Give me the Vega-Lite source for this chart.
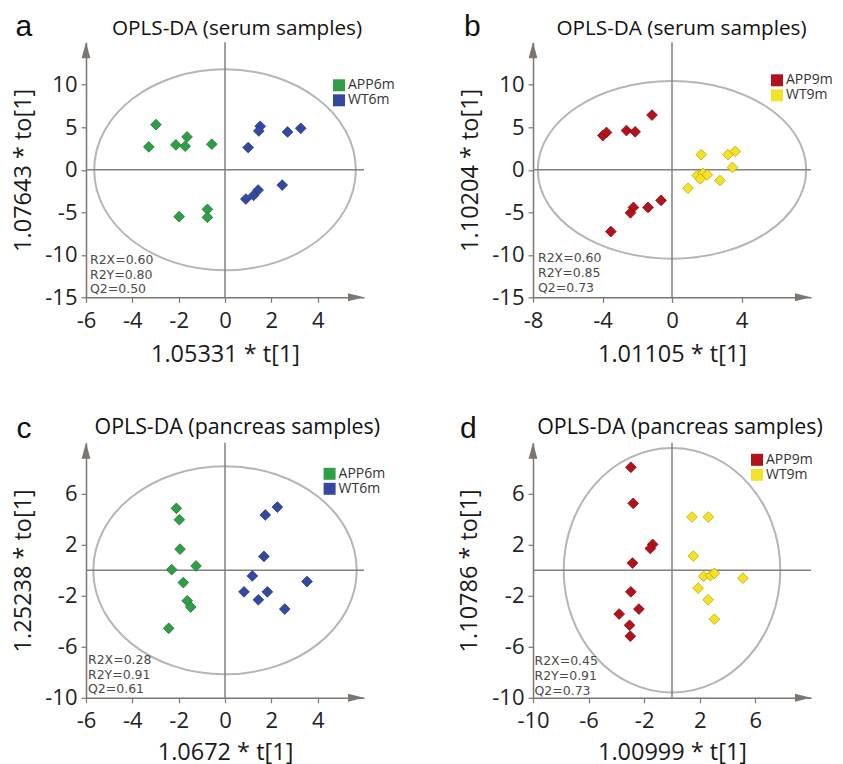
{
  "$schema": "https://vega.github.io/schema/vega-lite/v6.json",
  "padding": {"left": 10, "top": 11.3, "right": 0, "bottom": 0},
  "columns": 2,
  "spacing": {"row": 145.5, "column": 169},
  "bounds": "flush",
  "resolve": {"scale": {"color": "independent", "stroke": "independent", "x": "independent", "y": "independent"}, "legend": {"color": "independent"}, "axis": {"x": "independent", "y": "independent"}},
  "datasets": {
    "info_a": [{"cx": 0, "cy": 0, "letter": "a", "title": "OPLS-DA (serum samples)", "stats": ["R2X=0.60", "R2Y=0.80", "Q2=0.50"]}],
    "info_b": [{"cx": 0, "cy": 0, "letter": "b", "title": "OPLS-DA (serum samples)", "stats": ["R2X=0.60", "R2Y=0.85", "Q2=0.73"]}],
    "info_c": [{"cx": 0, "cy": 0, "letter": "c", "title": "OPLS-DA (pancreas samples)", "stats": ["R2X=0.28", "R2Y=0.91", "Q2=0.61"]}],
    "info_d": [{"cx": 0, "cy": 0, "letter": "d", "title": "OPLS-DA (pancreas samples)", "stats": ["R2X=0.45", "R2Y=0.91", "Q2=0.73"]}],
    "pts_a": [
      {"group": "APP6m", "x": -2.98, "y": 5.31},
      {"group": "APP6m", "x": -3.29, "y": 2.70},
      {"group": "APP6m", "x": -2.12, "y": 2.93},
      {"group": "APP6m", "x": -1.72, "y": 2.77},
      {"group": "APP6m", "x": -1.64, "y": 3.87},
      {"group": "APP6m", "x": -0.57, "y": 3.01},
      {"group": "APP6m", "x": -1.98, "y": -5.51},
      {"group": "APP6m", "x": -0.76, "y": -4.65},
      {"group": "APP6m", "x": -0.76, "y": -5.59},
      {"group": "WT6m", "x": 1.52, "y": 5.12},
      {"group": "WT6m", "x": 1.46, "y": 4.57},
      {"group": "WT6m", "x": 2.70, "y": 4.45},
      {"group": "WT6m", "x": 3.27, "y": 4.88},
      {"group": "WT6m", "x": 1.00, "y": 2.62},
      {"group": "WT6m", "x": 2.47, "y": -1.80},
      {"group": "WT6m", "x": 1.43, "y": -2.38},
      {"group": "WT6m", "x": 1.23, "y": -3.01},
      {"group": "WT6m", "x": 0.90, "y": -3.44}
    ],
    "pts_b": [
      {"group": "APP9m", "x": -3.98, "y": 4.03},
      {"group": "APP9m", "x": -3.77, "y": 4.39},
      {"group": "APP9m", "x": -2.62, "y": 4.62},
      {"group": "APP9m", "x": -2.12, "y": 4.47},
      {"group": "APP9m", "x": -1.15, "y": 6.44},
      {"group": "APP9m", "x": -0.63, "y": -3.60},
      {"group": "APP9m", "x": -1.38, "y": -4.43},
      {"group": "APP9m", "x": -2.22, "y": -4.43},
      {"group": "APP9m", "x": -2.39, "y": -5.06},
      {"group": "APP9m", "x": -3.52, "y": -7.27},
      {"group": "WT9m", "x": 1.68, "y": 1.78},
      {"group": "WT9m", "x": 3.22, "y": 1.78},
      {"group": "WT9m", "x": 3.64, "y": 2.17},
      {"group": "WT9m", "x": 3.48, "y": 0.28},
      {"group": "WT9m", "x": 1.45, "y": -0.67},
      {"group": "WT9m", "x": 1.78, "y": -0.43},
      {"group": "WT9m", "x": 1.63, "y": -1.07},
      {"group": "WT9m", "x": 2.03, "y": -0.59},
      {"group": "WT9m", "x": 2.76, "y": -1.26},
      {"group": "WT9m", "x": 0.92, "y": -2.17}
    ],
    "pts_c": [
      {"group": "APP6m", "x": -2.10, "y": 4.86},
      {"group": "APP6m", "x": -1.97, "y": 3.97},
      {"group": "APP6m", "x": -1.94, "y": 1.66},
      {"group": "APP6m", "x": -1.25, "y": 0.34},
      {"group": "APP6m", "x": -2.30, "y": 0.05},
      {"group": "APP6m", "x": -1.80, "y": -0.96},
      {"group": "APP6m", "x": -1.63, "y": -2.39},
      {"group": "APP6m", "x": -1.48, "y": -2.88},
      {"group": "APP6m", "x": -2.43, "y": -4.55},
      {"group": "WT6m", "x": 2.26, "y": 4.96},
      {"group": "WT6m", "x": 1.74, "y": 4.34},
      {"group": "WT6m", "x": 1.68, "y": 1.09},
      {"group": "WT6m", "x": 1.18, "y": -0.44},
      {"group": "WT6m", "x": 3.54, "y": -0.88},
      {"group": "WT6m", "x": 0.82, "y": -1.69},
      {"group": "WT6m", "x": 1.83, "y": -1.69},
      {"group": "WT6m", "x": 1.44, "y": -2.31},
      {"group": "WT6m", "x": 2.58, "y": -3.04}
    ],
    "pts_d": [
      {"group": "APP9m", "x": -2.96, "y": 8.08},
      {"group": "APP9m", "x": -2.79, "y": 5.25},
      {"group": "APP9m", "x": -1.39, "y": 2.03},
      {"group": "APP9m", "x": -1.56, "y": 1.71},
      {"group": "APP9m", "x": -2.84, "y": 0.57},
      {"group": "APP9m", "x": -2.96, "y": -1.69},
      {"group": "APP9m", "x": -2.38, "y": -3.04},
      {"group": "APP9m", "x": -3.80, "y": -3.43},
      {"group": "APP9m", "x": -3.05, "y": -4.31},
      {"group": "APP9m", "x": -3.00, "y": -5.17},
      {"group": "WT9m", "x": 1.44, "y": 4.18},
      {"group": "WT9m", "x": 2.62, "y": 4.18},
      {"group": "WT9m", "x": 1.54, "y": 1.12},
      {"group": "WT9m", "x": 2.28, "y": -0.47},
      {"group": "WT9m", "x": 2.76, "y": -0.42},
      {"group": "WT9m", "x": 3.05, "y": -0.23},
      {"group": "WT9m", "x": 5.10, "y": -0.62},
      {"group": "WT9m", "x": 1.88, "y": -1.40},
      {"group": "WT9m", "x": 2.60, "y": -2.31},
      {"group": "WT9m", "x": 3.05, "y": -3.84}
    ]
  },
  "concat": [
    {
      "width": 278, "height": 255,
      "layer": [
        {"data": {"name": "info_a"},
         "mark": {"type": "point", "shape": "M1,0C1,0.424 0.5523,0.768 0,0.768C-0.5523,0.768 -1,0.424 -1,0C-1,-0.424 -0.5523,-0.768 0,-0.768C0.5523,-0.768 1,-0.424 1,0Z", "size": 68435, "filled": false, "color": "#b5b5b5", "strokeWidth": 2, "opacity": 1},
         "encoding": {
           "x": {"field": "cx", "type": "quantitative", "scale": {"domain": [-6, 6], "nice": false, "zero": false},
                 "axis": {"title": "1.05331 * t[1]", "values": [-6, -5, -4, -3, -2, -1, 0, 1, 2, 3, 4, 5], "labelExpr": "datum.value % 2 === 0 ? '' + datum.value : ''", "titleY": 64.5}},
           "y": {"field": "cy", "type": "quantitative", "scale": {"domain": [-15, 15], "nice": false, "zero": false},
                 "axis": {"title": "1.07643 * to[1]", "values": [-15, -12.5, -10, -7.5, -5, -2.5, 0, 2.5, 5, 7.5, 10, 12.5], "labelExpr": "datum.value % 5 === 0 ? '' + datum.value : ''", "titleX": -55.5}}
         }},
        {"data": {"name": "info_a"},
         "mark": {"type": "rule", "color": "#808080", "strokeWidth": 1.5},
         "encoding": {"y": {"datum": 0, "type": "quantitative"}}},
        {"data": {"name": "info_a"},
         "mark": {"type": "rule", "color": "#808080", "strokeWidth": 1.5},
         "encoding": {"x": {"datum": 0, "type": "quantitative"}}},
        {"data": {"name": "info_a"},
         "mark": {"type": "point", "shape": "M0,0L-2,-0.5L-2,0.5Z", "size": 256, "filled": true, "color": "#7d7570", "opacity": 1, "strokeWidth": 0},
         "encoding": {"x": {"datum": 6, "type": "quantitative"}, "y": {"datum": -15, "type": "quantitative"}}},
        {"data": {"name": "info_a"},
         "mark": {"type": "point", "shape": "M0,0L0.55,2L-0.55,2Z", "size": 256, "filled": true, "color": "#7d7570", "opacity": 1, "strokeWidth": 0},
         "encoding": {"x": {"datum": -6, "type": "quantitative"}, "y": {"datum": 15, "type": "quantitative"}}},
        {"data": {"name": "pts_a"},
         "mark": {"type": "point", "shape": "diamond", "filled": true, "size": 115, "strokeWidth": 0.8, "opacity": 1},
         "encoding": {
           "x": {"field": "x", "type": "quantitative"},
           "y": {"field": "y", "type": "quantitative"},
           "color": {"field": "group", "type": "nominal", "scale": {"domain": ["APP6m", "WT6m"], "range": ["#2f9e46", "#3448a0"]}, "legend": {"title": null, "legendX": 246, "legendY": 36}},
           "stroke": {"field": "group", "type": "nominal", "scale": {"domain": ["APP6m", "WT6m"], "range": ["#1f7a33", "#26368a"]}, "legend": null}
         }},
        {"data": {"name": "info_a"},
         "mark": {"type": "text", "align": "left", "baseline": "alphabetic", "dx": 4, "dy": -33.4, "font": "DejaVu Sans", "fontSize": 12.5, "lineHeight": 14.8, "color": "#4a4a4a"},
         "encoding": {"x": {"datum": -6, "type": "quantitative"}, "y": {"datum": -15, "type": "quantitative"},
                      "text": {"field": "stats", "type": "nominal"}}},
        {"data": {"name": "info_a"},
         "mark": {"type": "text", "align": "left", "baseline": "alphabetic", "dx": -70.5, "dy": -6, "font": "Liberation Sans", "fontSize": 30, "color": "#111111"},
         "encoding": {"x": {"datum": -6, "type": "quantitative"}, "y": {"datum": 15, "type": "quantitative"},
                      "text": {"field": "letter", "type": "nominal"}}},
        {"data": {"name": "info_a"},
         "mark": {"type": "text", "align": "center", "baseline": "alphabetic", "dx": 12, "dy": -7.4, "font": "Open Sans", "fontSize": 20.7, "color": "#111111"},
         "encoding": {"x": {"datum": 0, "type": "quantitative"}, "y": {"datum": 15, "type": "quantitative"},
                      "text": {"field": "title", "type": "nominal"}}}
      ]
    },
    {
      "width": 278, "height": 255,
      "layer": [
        {"data": {"name": "info_b"},
         "mark": {"type": "point", "shape": "M1,0C1,0.3656 0.5523,0.662 0,0.662C-0.5523,0.662 -1,0.3656 -1,0C-1,-0.3656 -0.5523,-0.662 0,-0.662C0.5523,-0.662 1,-0.3656 1,0Z", "size": 72039, "filled": false, "color": "#b5b5b5", "strokeWidth": 2, "opacity": 1},
         "encoding": {
           "x": {"field": "cx", "type": "quantitative", "scale": {"domain": [-8, 8], "nice": false, "zero": false},
                 "axis": {"title": "1.01105 * t[1]", "values": [-8, -7, -6, -5, -4, -3, -2, -1, 0, 1, 2, 3, 4, 5, 6, 7], "labelExpr": "datum.value % 2 === 0 ? '' + datum.value : ''", "titleY": 64.5}},
           "y": {"field": "cy", "type": "quantitative", "scale": {"domain": [-15, 15], "nice": false, "zero": false},
                 "axis": {"title": "1.10204 * to[1]", "values": [-15, -12.5, -10, -7.5, -5, -2.5, 0, 2.5, 5, 7.5, 10, 12.5], "labelExpr": "datum.value % 5 === 0 ? '' + datum.value : ''", "titleX": -55}}
         }},
        {"data": {"name": "info_b"},
         "mark": {"type": "rule", "color": "#808080", "strokeWidth": 1.5},
         "encoding": {"y": {"datum": 0, "type": "quantitative"}}},
        {"data": {"name": "info_b"},
         "mark": {"type": "rule", "color": "#808080", "strokeWidth": 1.5},
         "encoding": {"x": {"datum": 0, "type": "quantitative"}}},
        {"data": {"name": "info_b"},
         "mark": {"type": "point", "shape": "M0,0L-2,-0.5L-2,0.5Z", "size": 256, "filled": true, "color": "#7d7570", "opacity": 1, "strokeWidth": 0},
         "encoding": {"x": {"datum": 8, "type": "quantitative"}, "y": {"datum": -15, "type": "quantitative"}}},
        {"data": {"name": "info_b"},
         "mark": {"type": "point", "shape": "M0,0L0.55,2L-0.55,2Z", "size": 256, "filled": true, "color": "#7d7570", "opacity": 1, "strokeWidth": 0},
         "encoding": {"x": {"datum": -8, "type": "quantitative"}, "y": {"datum": 15, "type": "quantitative"}}},
        {"data": {"name": "pts_b"},
         "mark": {"type": "point", "shape": "diamond", "filled": true, "size": 115, "strokeWidth": 0.8, "opacity": 1},
         "encoding": {
           "x": {"field": "x", "type": "quantitative"},
           "y": {"field": "y", "type": "quantitative"},
           "color": {"field": "group", "type": "nominal", "scale": {"domain": ["APP9m", "WT9m"], "range": ["#b3121c", "#f2e22a"]}, "legend": {"title": null, "legendX": 237, "legendY": 31}},
           "stroke": {"field": "group", "type": "nominal", "scale": {"domain": ["APP9m", "WT9m"], "range": ["#7d0c12", "#c4a800"]}, "legend": null}
         }},
        {"data": {"name": "info_b"},
         "mark": {"type": "text", "align": "left", "baseline": "alphabetic", "dx": 5, "dy": -35, "font": "DejaVu Sans", "fontSize": 12.5, "lineHeight": 14.8, "color": "#4a4a4a"},
         "encoding": {"x": {"datum": -8, "type": "quantitative"}, "y": {"datum": -15, "type": "quantitative"},
                      "text": {"field": "stats", "type": "nominal"}}},
        {"data": {"name": "info_b"},
         "mark": {"type": "text", "align": "left", "baseline": "alphabetic", "dx": -69, "dy": -6.7, "font": "Liberation Sans", "fontSize": 30, "color": "#111111"},
         "encoding": {"x": {"datum": -8, "type": "quantitative"}, "y": {"datum": 15, "type": "quantitative"},
                      "text": {"field": "letter", "type": "nominal"}}},
        {"data": {"name": "info_b"},
         "mark": {"type": "text", "align": "center", "baseline": "alphabetic", "dx": 9.5, "dy": -7.4, "font": "Open Sans", "fontSize": 20.7, "color": "#111111"},
         "encoding": {"x": {"datum": 0, "type": "quantitative"}, "y": {"datum": 15, "type": "quantitative"},
                      "text": {"field": "title", "type": "nominal"}}}
      ]
    },
    {
      "width": 278, "height": 255,
      "layer": [
        {"data": {"name": "info_c"},
         "mark": {"type": "point", "shape": "M1,0C1,0.4363 0.5523,0.79 0,0.79C-0.5523,0.79 -1,0.4363 -1,0C-1,-0.4363 -0.5523,-0.79 0,-0.79C0.5523,-0.79 1,-0.4363 1,0Z", "size": 69380, "filled": false, "color": "#b5b5b5", "strokeWidth": 2, "opacity": 1},
         "encoding": {
           "x": {"field": "cx", "type": "quantitative", "scale": {"domain": [-6, 6], "nice": false, "zero": false},
                 "axis": {"title": "1.0672 * t[1]", "values": [-6, -5, -4, -3, -2, -1, 0, 1, 2, 3, 4, 5], "labelExpr": "datum.value % 2 === 0 ? '' + datum.value : ''", "titleY": 61.5}},
           "y": {"field": "cy", "type": "quantitative", "scale": {"domain": [-10, 10], "nice": false, "zero": false},
                 "axis": {"title": "1.25238 * to[1]", "values": [-10, -8, -6, -4, -2, 0, 2, 4, 6, 8], "labelExpr": "(datum.value + 10) % 4 === 0 ? '' + datum.value : ''", "titleX": -56}}
         }},
        {"data": {"name": "info_c"},
         "mark": {"type": "rule", "color": "#808080", "strokeWidth": 1.5},
         "encoding": {"y": {"datum": 0, "type": "quantitative"}}},
        {"data": {"name": "info_c"},
         "mark": {"type": "rule", "color": "#808080", "strokeWidth": 1.5},
         "encoding": {"x": {"datum": 0, "type": "quantitative"}}},
        {"data": {"name": "info_c"},
         "mark": {"type": "point", "shape": "M0,0L-2,-0.5L-2,0.5Z", "size": 256, "filled": true, "color": "#7d7570", "opacity": 1, "strokeWidth": 0},
         "encoding": {"x": {"datum": 6, "type": "quantitative"}, "y": {"datum": -10, "type": "quantitative"}}},
        {"data": {"name": "info_c"},
         "mark": {"type": "point", "shape": "M0,0L0.55,2L-0.55,2Z", "size": 256, "filled": true, "color": "#7d7570", "opacity": 1, "strokeWidth": 0},
         "encoding": {"x": {"datum": -6, "type": "quantitative"}, "y": {"datum": 10, "type": "quantitative"}}},
        {"data": {"name": "pts_c"},
         "mark": {"type": "point", "shape": "diamond", "filled": true, "size": 115, "strokeWidth": 0.8, "opacity": 1},
         "encoding": {
           "x": {"field": "x", "type": "quantitative"},
           "y": {"field": "y", "type": "quantitative"},
           "color": {"field": "group", "type": "nominal", "scale": {"domain": ["APP6m", "WT6m"], "range": ["#2f9e46", "#3448a0"]}, "legend": {"title": null, "legendX": 236.6, "legendY": 24}},
           "stroke": {"field": "group", "type": "nominal", "scale": {"domain": ["APP6m", "WT6m"], "range": ["#1f7a33", "#26368a"]}, "legend": null}
         }},
        {"data": {"name": "info_c"},
         "mark": {"type": "text", "align": "left", "baseline": "alphabetic", "dx": 2, "dy": -34, "font": "DejaVu Sans", "fontSize": 12.5, "lineHeight": 14.8, "color": "#4a4a4a"},
         "encoding": {"x": {"datum": -6, "type": "quantitative"}, "y": {"datum": -10, "type": "quantitative"},
                      "text": {"field": "stats", "type": "nominal"}}},
        {"data": {"name": "info_c"},
         "mark": {"type": "text", "align": "left", "baseline": "alphabetic", "dx": -69.5, "dy": -5, "font": "Liberation Sans", "fontSize": 30, "color": "#111111"},
         "encoding": {"x": {"datum": -6, "type": "quantitative"}, "y": {"datum": 10, "type": "quantitative"},
                      "text": {"field": "letter", "type": "nominal"}}},
        {"data": {"name": "info_c"},
         "mark": {"type": "text", "align": "center", "baseline": "alphabetic", "dx": 12.3, "dy": -8.4, "font": "Open Sans", "fontSize": 21.4, "color": "#111111"},
         "encoding": {"x": {"datum": 0, "type": "quantitative"}, "y": {"datum": 10, "type": "quantitative"},
                      "text": {"field": "title", "type": "nominal"}}}
      ]
    },
    {
      "width": 278, "height": 255,
      "layer": [
        {"data": {"name": "info_d"},
         "mark": {"type": "point", "shape": "M1,0C1,0.6235 0.5523,1.129 0,1.129C-0.5523,1.129 -1,0.6235 -1,0C-1,-0.6235 -0.5523,-1.129 0,-1.129C0.5523,-1.129 1,-0.6235 1,0Z", "size": 46916, "filled": false, "color": "#b5b5b5", "strokeWidth": 2, "opacity": 1},
         "encoding": {
           "x": {"field": "cx", "type": "quantitative", "scale": {"domain": [-10, 10], "nice": false, "zero": false},
                 "axis": {"title": "1.00999 * t[1]", "values": [-10, -8, -6, -4, -2, 0, 2, 4, 6, 8], "labelExpr": "(datum.value + 10) % 4 === 0 ? '' + datum.value : ''", "titleY": 61.5}},
           "y": {"field": "cy", "type": "quantitative", "scale": {"domain": [-10, 10], "nice": false, "zero": false},
                 "axis": {"title": "1.10786 * to[1]", "values": [-10, -8, -6, -4, -2, 0, 2, 4, 6, 8], "labelExpr": "(datum.value + 10) % 4 === 0 ? '' + datum.value : ''", "titleX": -56.5}}
         }},
        {"data": {"name": "info_d"},
         "mark": {"type": "rule", "color": "#808080", "strokeWidth": 1.5},
         "encoding": {"y": {"datum": 0, "type": "quantitative"}}},
        {"data": {"name": "info_d"},
         "mark": {"type": "rule", "color": "#808080", "strokeWidth": 1.5},
         "encoding": {"x": {"datum": 0, "type": "quantitative"}}},
        {"data": {"name": "info_d"},
         "mark": {"type": "point", "shape": "M0,0L-2,-0.5L-2,0.5Z", "size": 256, "filled": true, "color": "#7d7570", "opacity": 1, "strokeWidth": 0},
         "encoding": {"x": {"datum": 10, "type": "quantitative"}, "y": {"datum": -10, "type": "quantitative"}}},
        {"data": {"name": "info_d"},
         "mark": {"type": "point", "shape": "M0,0L0.55,2L-0.55,2Z", "size": 256, "filled": true, "color": "#7d7570", "opacity": 1, "strokeWidth": 0},
         "encoding": {"x": {"datum": -10, "type": "quantitative"}, "y": {"datum": 10, "type": "quantitative"}}},
        {"data": {"name": "pts_d"},
         "mark": {"type": "point", "shape": "diamond", "filled": true, "size": 115, "strokeWidth": 0.8, "opacity": 1},
         "encoding": {
           "x": {"field": "x", "type": "quantitative"},
           "y": {"field": "y", "type": "quantitative"},
           "color": {"field": "group", "type": "nominal", "scale": {"domain": ["APP9m", "WT9m"], "range": ["#b3121c", "#f2e22a"]}, "legend": {"title": null, "legendX": 217, "legendY": 10}},
           "stroke": {"field": "group", "type": "nominal", "scale": {"domain": ["APP9m", "WT9m"], "range": ["#7d0c12", "#c4a800"]}, "legend": null}
         }},
        {"data": {"name": "info_d"},
         "mark": {"type": "text", "align": "left", "baseline": "alphabetic", "dx": 1.5, "dy": -32.7, "font": "DejaVu Sans", "fontSize": 12.5, "lineHeight": 14.8, "color": "#4a4a4a"},
         "encoding": {"x": {"datum": -10, "type": "quantitative"}, "y": {"datum": -10, "type": "quantitative"},
                      "text": {"field": "stats", "type": "nominal"}}},
        {"data": {"name": "info_d"},
         "mark": {"type": "text", "align": "left", "baseline": "alphabetic", "dx": -73, "dy": -5, "font": "Liberation Sans", "fontSize": 30, "color": "#111111"},
         "encoding": {"x": {"datum": -10, "type": "quantitative"}, "y": {"datum": 10, "type": "quantitative"},
                      "text": {"field": "letter", "type": "nominal"}}},
        {"data": {"name": "info_d"},
         "mark": {"type": "text", "align": "center", "baseline": "alphabetic", "dx": 8, "dy": -8.4, "font": "Open Sans", "fontSize": 21.4, "color": "#111111"},
         "encoding": {"x": {"datum": 0, "type": "quantitative"}, "y": {"datum": 10, "type": "quantitative"},
                      "text": {"field": "title", "type": "nominal"}}}
      ]
    }
  ],
  "config": {
    "view": {"stroke": null},
    "font": "Open Sans",
    "axis": {"grid": false, "domainColor": "#7d7570", "domainWidth": 1.5, "tickColor": "#7d7570", "tickWidth": 1.2, "tickSize": 5,
             "labelFont": "Open Sans", "labelFontSize": 22, "labelColor": "#222222",
             "titleFont": "Open Sans", "titleFontSize": 23.5, "titleFontWeight": "normal", "titleColor": "#1a1a1a",
             "labelOverlap": false, "labelFlush": false, "titleBaseline": "alphabetic"},
    "axisX": {"labelPadding": 8},
    "axisY": {"labelPadding": 4},
    "legend": {"orient": "none", "symbolType": "square", "symbolSize": 144, "symbolStrokeWidth": 0, "symbolOpacity": 1,
               "labelFont": "Open Sans", "labelFontSize": 14, "labelColor": "#333333", "labelOffset": 2, "rowPadding": 1, "padding": 0}
  }
}
